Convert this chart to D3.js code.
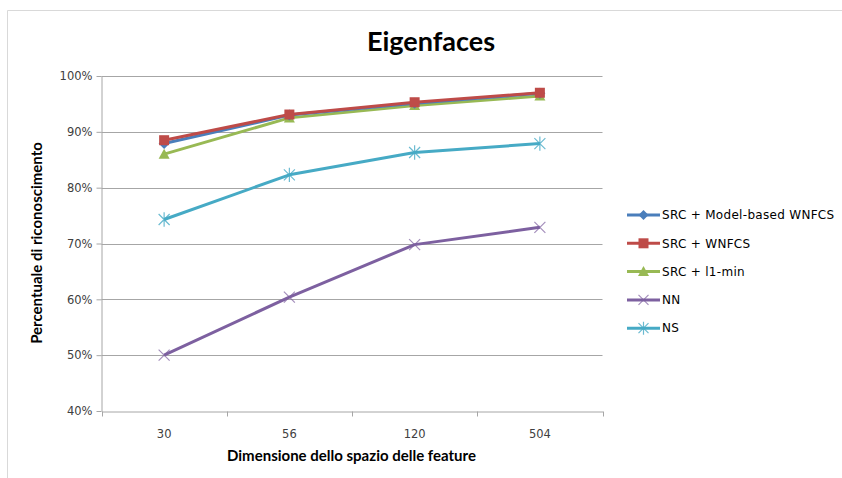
<!DOCTYPE html>
<html>
<head>
<meta charset="utf-8">
<script src="https://cdn.jsdelivr.net/npm/d3@7"></script>
<style>
  html, body { margin: 0; padding: 0; background: #fff; }
  svg { display: block; }
</style>
</head>
<body>
<svg id="chart" width="842" height="478"></svg>
<script>
// Feature-space dimensions (x categories)
const categories = ["30", "56", "120", "504"];

// Recognition rates (%) per method
const srcModelWnfcs = [87.9, 93.0, 95.1, 96.9];
const srcWnfcs      = [88.5, 93.1, 95.3, 97.0];
const srcL1min      = [86.0, 92.5, 94.7, 96.4];
const nn            = [50.0, 60.4, 69.8, 72.9];
const ns            = [74.3, 82.3, 86.3, 87.9];

const yTicks = [40, 50, 60, 70, 80, 90, 100];

const seriesNames = ["SRC + Model-based WNFCS", "SRC + WNFCS", "SRC + l1-min", "NN", "NS"];
const seriesValues = [srcModelWnfcs, srcWnfcs, srcL1min, nn, ns];
const seriesColors = ["#4a7ebb", "#be4b48", "#98b954", "#7d60a0", "#46aac5"];
const seriesMarkers = ["diamond", "square", "triangle", "x", "star"];

const svg = d3.select("#chart");
const W = 842, H = 478;
const plot = { left: 101.5, right: 602.5, top: 76, bottom: 411 };

// Outer frame (left and top edges visible)
svg.append("path")
  .attr("d", `M7.5,${H} V10.5 H${W}`)
  .attr("fill", "none").attr("stroke", "#d9d9d9").attr("stroke-width", 1);

const x = d3.scaleBand().domain(categories).range([plot.left, plot.right]);
const y = d3.scaleLinear().domain([40, 100]).range([plot.bottom, plot.top]);

// Horizontal gridlines
svg.append("g").selectAll("line")
  .data(yTicks.filter(t => t > 40))
  .join("line")
  .attr("x1", plot.left).attr("x2", plot.right)
  .attr("y1", d => Math.round(y(d)) + 0.5).attr("y2", d => Math.round(y(d)) + 0.5)
  .attr("stroke", "#a6a6a6").attr("stroke-width", 1);

// Y axis
const yAxis = svg.append("g")
  .attr("transform", `translate(${plot.left},0)`)
  .call(d3.axisLeft(y).tickValues(yTicks).tickSize(5).tickSizeOuter(0)
    .tickFormat(d => d + "%"));
yAxis.select(".domain").attr("stroke", "#a6a6a6");
yAxis.selectAll(".tick line").attr("stroke", "#a6a6a6");
yAxis.selectAll(".tick text")
  .attr("font-family", "DejaVu Sans, Verdana, sans-serif")
  .attr("font-size", 11.5).attr("fill", "#404040").attr("x", -9);

// X axis with ticks on band boundaries
const xAxis = svg.append("g")
  .attr("transform", `translate(0,${Math.round(plot.bottom) + 0.5})`)
  .call(d3.axisBottom(x).tickSize(0).tickSizeOuter(0));
xAxis.select(".domain").attr("stroke", "#a6a6a6");
xAxis.selectAll(".tick text")
  .attr("font-family", "DejaVu Sans, Verdana, sans-serif")
  .attr("font-size", 11.5).attr("fill", "#404040").attr("dy", "2.0em");
const bounds = categories.map(c => x(c)).concat([x(categories[categories.length - 1]) + x.bandwidth()]);
xAxis.append("g").selectAll("line")
  .data(bounds)
  .join("line")
  .attr("x1", d => Math.round(d) + 0.5).attr("x2", d => Math.round(d) + 0.5)
  .attr("y1", 0).attr("y2", 5)
  .attr("stroke", "#a6a6a6");

// Marker drawing
function drawMarker(g, kind, color, size) {
  const s = size;
  if (kind === "diamond") {
    g.append("path").attr("d", `M0,${-s} L${s},0 L0,${s} L${-s},0 Z`).attr("fill", color);
  } else if (kind === "square") {
    g.append("rect").attr("x", -s).attr("y", -s).attr("width", 2 * s).attr("height", 2 * s).attr("fill", color);
  } else if (kind === "triangle") {
    g.append("path").attr("d", `M0,${-s * 1.1} L${s * 1.1},${s * 0.9} L${-s * 1.1},${s * 0.9} Z`).attr("fill", color);
  } else if (kind === "x") {
    g.append("path").attr("d", `M${-s},${-s} L${s},${s} M${-s},${s} L${s},${-s}`)
      .attr("stroke", color).attr("stroke-width", 1.2).attr("fill", "none").attr("opacity", 0.7);
  } else if (kind === "star") {
    g.append("path").attr("d", `M${-s},${-s} L${s},${s} M${-s},${s} L${s},${-s} M0,${-s * 1.3} L0,${s * 1.3}`)
      .attr("stroke", color).attr("stroke-width", 1.2).attr("fill", "none").attr("opacity", 0.8);
  }
}

const cx = c => x(c) + x.bandwidth() / 2;
const line = d3.line().x((d, i) => cx(categories[i])).y(d => y(d));

// Draw series in reverse so the first series sits on top of later ones where they overlap
const drawOrder = [4, 3, 2, 0, 1];
drawOrder.forEach(si => {
  const vals = seriesValues[si];
  const g = svg.append("g");
  g.append("path").datum(vals)
    .attr("d", line)
    .attr("fill", "none")
    .attr("stroke", seriesColors[si])
    .attr("stroke-width", 3)
    .attr("stroke-linejoin", "round");
  vals.forEach((v, i) => {
    const mg = g.append("g").attr("transform", `translate(${cx(categories[i])},${y(v)})`);
    drawMarker(mg, seriesMarkers[si], seriesColors[si], si === 1 ? 5 : (si === 2 ? 5 : 5.5));
  });
});

// Title
svg.append("text")
  .attr("x", 431).attr("y", 51)
  .attr("text-anchor", "middle")
  .attr("font-family", "Lato, 'Open Sans', sans-serif")
  .attr("font-weight", "bold").attr("font-size", 27).attr("fill", "#000")
  .text("Eigenfaces");

// Axis titles
svg.append("text")
  .attr("x", 351.5).attr("y", 461)
  .attr("text-anchor", "middle")
  .attr("font-family", "Lato, 'Open Sans', sans-serif")
  .attr("font-weight", "bold").attr("font-size", 15).attr("fill", "#000")
  .text("Dimensione dello spazio delle feature");

svg.append("text")
  .attr("transform", `translate(42,243) rotate(-90)`)
  .attr("text-anchor", "middle")
  .attr("font-family", "Lato, 'Open Sans', sans-serif")
  .attr("font-weight", "bold").attr("font-size", 15).attr("fill", "#000")
  .text("Percentuale di riconoscimento");

// Legend
const legend = svg.append("g").attr("transform", "translate(627,215)");
seriesNames.forEach((name, i) => {
  const row = legend.append("g").attr("transform", `translate(0,${i * 28.3})`);
  row.append("line").attr("x1", 0).attr("x2", 33).attr("y1", 0).attr("y2", 0)
    .attr("stroke", seriesColors[i]).attr("stroke-width", 3);
  const mg = row.append("g").attr("transform", "translate(16.5,0)");
  drawMarker(mg, seriesMarkers[i], seriesColors[i], 5);
  row.append("text").attr("x", 35).attr("y", 0).attr("dy", "0.35em")
    .attr("font-family", "DejaVu Sans, Verdana, sans-serif")
    .attr("font-size", 12).attr("letter-spacing", 0.3).attr("fill", "#000")
    .text(name);
});
</script>
</body>
</html>
